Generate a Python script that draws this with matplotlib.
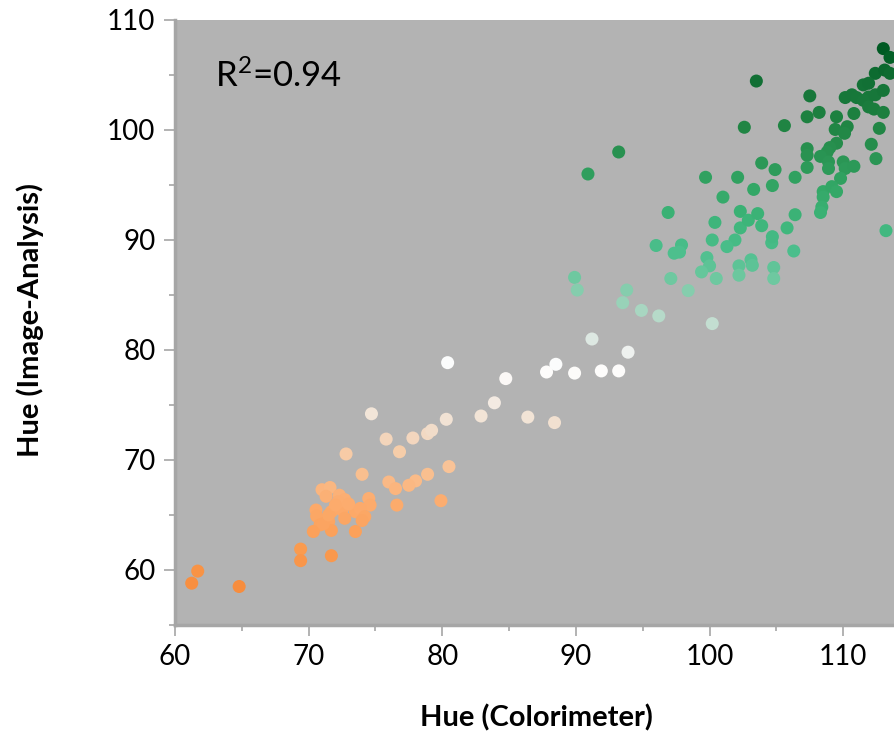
import numpy as np
import matplotlib
matplotlib.use('Agg')
import matplotlib.pyplot as plt
from matplotlib.colors import LinearSegmentedColormap, Normalize

plt.rcParams['font.family'] = ['Lato', 'DejaVu Sans']
plt.rcParams['mathtext.fontset'] = 'custom'
plt.rcParams['mathtext.rm'] = 'Lato'

# Hue read by colorimeter (x) and by image analysis (y)
hue_colorimeter = [
    61.7, 61.25, 64.8, 69.4, 69.4, 71.7,
    71.0, 71.6, 72.3, 72.7, 71.3, 74.5, 74.6, 70.55, 70.6, 71.7, 72.5, 73.5,
    73.85, 74.2, 72.7, 71.5, 70.85, 70.35, 71.7, 74.0, 73.5, 72.2, 71.1, 71.5,
    72.0, 73.0,
    72.8, 75.8, 74.7, 77.8, 78.9, 79.2, 80.3, 82.9, 76.8, 74.0, 80.5, 78.9,
    78.0, 77.5, 76.0, 76.5, 76.6, 79.9,
    80.4, 84.75, 87.8, 88.5, 89.9, 91.9, 93.2, 93.9, 91.2, 83.9, 86.4, 88.4,
    100.2,
    89.9, 90.1, 93.8, 93.5, 94.9, 96.2, 97.1, 98.4,
    93.2, 90.9, 99.7, 102.1, 101.0, 96.9, 102.3, 100.4, 102.3, 102.9, 96.0,
    97.9, 97.35, 97.75, 100.2, 101.9, 101.3, 99.8, 100.0, 99.4, 100.5, 102.2,
    102.2, 103.1, 103.2, 104.65, 106.3, 104.8, 104.8,
    113.0, 113.5, 112.4, 113.1, 113.5, 103.5, 107.5, 108.2, 107.3, 109.5,
    102.6, 105.6, 110.15, 110.65, 111.5, 111.9, 111.0, 111.9, 112.4, 113.0,
    111.5, 111.9, 112.3, 113.0, 110.8, 109.4, 110.3, 110.1, 112.7, 109.5,
    109.0, 108.8, 107.3, 107.3, 108.3, 108.9, 108.9, 107.3, 110.0, 110.15,
    110.8, 109.8, 112.1, 112.45, 103.9, 104.9, 106.4, 104.7, 103.3, 108.5,
    109.15, 109.5, 108.5, 108.4, 108.3, 103.6, 106.4, 103.9, 105.8, 104.7,
    113.2,
]
hue_image = [
    59.9, 58.8, 58.5, 61.9, 60.85, 61.3,
    67.3, 67.5, 66.8, 66.4, 66.7, 66.5, 65.9, 65.45, 64.9, 65.3, 65.45, 65.3,
    65.6, 64.85, 64.7, 64.4, 64.1, 63.5, 63.6, 64.5, 63.5, 66.2, 64.2, 65.0,
    65.9, 66.0,
    70.55, 71.9, 74.2, 72.0, 72.4, 72.7, 73.7, 74.0, 70.75, 68.7, 69.4, 68.7,
    68.1, 67.7, 68.0, 67.4, 65.9, 66.3,
    78.85, 77.4, 78.0, 78.7, 77.9, 78.1, 78.1, 79.8, 81.0, 75.2, 73.9, 73.4,
    82.4,
    86.6, 85.45, 85.45, 84.3, 83.6, 83.1, 86.5, 85.4,
    98.0, 96.0, 95.7, 95.7, 93.9, 92.5, 92.6, 91.6, 91.1, 91.8, 89.5,
    89.55, 88.8, 88.9, 90.0, 90.0, 89.4, 88.4, 87.65, 87.1, 86.5, 87.65,
    86.8, 88.2, 87.7, 89.75, 89.0, 87.5, 86.5,
    107.4, 106.6, 105.15, 105.45, 105.15, 104.45, 103.1, 101.6, 101.2, 101.2,
    100.25, 100.4, 102.95, 103.2, 104.1, 104.25, 102.95, 103.0, 103.2, 103.6,
    102.7, 102.1, 101.9, 101.6, 101.5, 100.05, 100.3, 99.7, 100.15, 98.8,
    98.4, 98.0, 98.3, 97.7, 97.6, 97.1, 96.5, 96.6, 97.1, 96.5,
    96.7, 95.6, 98.7, 97.4, 97.0, 96.4, 95.7, 94.95, 94.6, 94.4,
    94.85, 94.4, 93.9, 93.0, 92.5, 92.4, 92.3, 91.3, 91.1, 90.3,
    90.85,
]
r_squared = 0.94

x_ticks = [60, 70, 80, 90, 100, 110]
y_ticks = [60, 70, 80, 90, 100, 110]

# orange -> white -> green colour scale keyed on image hue
stop_values = [58, 62, 66, 70, 73, 76, 78.5, 80, 82, 84, 86.5, 89, 92, 95, 98, 101, 104, 107.5]
stop_colors = ['#f78c3c', '#fa9b50', '#fcac6e', '#f8c8a0', '#f0decd', '#f5f0eb',
               '#ffffff', '#ebeeec', '#cde1d7', '#a0d4bc', '#6ec8a0', '#4bbe8c',
               '#3cb478', '#32a564', '#289150', '#1e8241', '#147337', '#005a23']
vmin, vmax = stop_values[0], stop_values[-1]
positions = [(v - vmin) / (vmax - vmin) for v in stop_values]
hue_cmap = LinearSegmentedColormap.from_list('hue', list(zip(positions, stop_colors)))

fig = plt.figure(figsize=(8.94, 7.42), dpi=100)
ax = fig.add_axes([175 / 894, 117 / 742, 1 - 175 / 894, 605 / 742])
ax.set_facecolor('#b3b3b3')

ax.scatter(hue_colorimeter, hue_image, c=hue_image, cmap=hue_cmap,
           norm=Normalize(vmin, vmax), s=88, linewidths=0, zorder=3)

ax.set_xlim(60, 113.8)
ax.set_ylim(55, 110)
ax.set_xticks(x_ticks)
ax.set_yticks(y_ticks)
ax.set_xticks(np.arange(65, 114, 10), minor=True)
ax.set_yticks(np.arange(55, 110, 10), minor=True)
ax.tick_params(which='major', length=8, width=1.2, color='#a6a6a6', labelsize=20, pad=6)
ax.tick_params(which='minor', length=4.5, width=1.2, color='#a6a6a6')

for side in ['top', 'right']:
    ax.spines[side].set_visible(False)
for side in ['left', 'bottom']:
    ax.spines[side].set_color('#a6a6a6')
    ax.spines[side].set_linewidth(2.5)

ax.text(63.0, 103.9, r'$\mathregular{R^2}$=%.2f' % r_squared, fontsize=25,
        ha='left', va='baseline')

fig.text(536 / 894, 1 - 718 / 742, 'Hue (Colorimeter)', fontsize=21,
         fontweight='bold', ha='center', va='center')
fig.text(30 / 894, 1 - 320 / 742, 'Hue (Image-Analysis)', fontsize=21,
         fontweight='bold', ha='center', va='center', rotation=90)

fig.savefig('out.png', dpi=100)
